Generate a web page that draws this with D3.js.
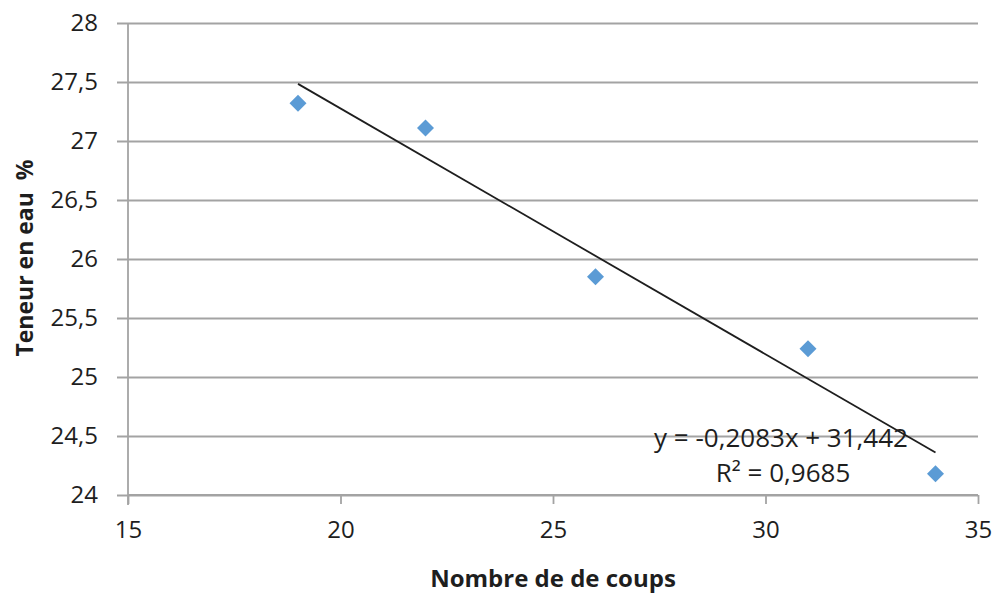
<!DOCTYPE html>
<html>
<head>
<meta charset="utf-8">
<script src="https://cdn.jsdelivr.net/npm/d3@7"></script>
<style>
  body { margin: 0; background: #fff; }
  text { font-family: "Open Sans", sans-serif; fill: #1e1e1e; }
</style>
</head>
<body>
<div id="chart"></div>
<script>
// data
var coups = [19, 22, 26, 31, 34];
var teneur = [27.32, 27.11, 25.85, 25.24, 24.18];
var xTicks = [15, 20, 25, 30, 35];
var yTicks = [24, 24.5, 25, 25.5, 26, 26.5, 27, 27.5, 28];
var slope = -0.2083, intercept = 31.442, r2 = 0.9685;

var W = 996, H = 594;
var margin = {top: 23, right: 18, bottom: 99, left: 128},
    width = W - margin.left - margin.right,
    height = H - margin.top - margin.bottom;

var fmt = function(v) { return String(v).replace(".", ","); };

var svg = d3.select("#chart")
  .append("svg")
    .attr("width", W)
    .attr("height", H)
  .append("g")
    .attr("transform", "translate(" + margin.left + "," + margin.top + ")");

var x = d3.scaleLinear().domain([15, 35]).range([0, width]);
var y = d3.scaleLinear().domain([24, 28]).range([height, 0]);

// horizontal gridlines + y axis
svg.append("g")
  .call(d3.axisLeft(y).tickValues(yTicks).tickSize(-width).tickFormat(fmt))
  .call(function(g) {
    g.select(".domain").remove();
    g.selectAll(".tick line").attr("stroke", "#a3a3a3").attr("stroke-width", 1.8).attr("x1", -11);
    g.selectAll(".tick text").attr("x", -30).style("font-size", "24px").attr("fill", "#1e1e1e");
  });

// y axis line
svg.append("line")
  .attr("x1", 0).attr("x2", 0).attr("y1", 0).attr("y2", height + 10)
  .attr("stroke", "#a3a3a3").attr("stroke-width", 1.8);

// x axis
svg.append("g")
  .attr("transform", "translate(0," + height + ")")
  .call(d3.axisBottom(x).tickValues(xTicks).tickSize(9).tickFormat(fmt))
  .call(function(g) {
    g.select(".domain").attr("stroke", "#a3a3a3").attr("stroke-width", 1.8).attr("d", "M0,0H" + width);
    g.selectAll(".tick line").attr("stroke", "#a3a3a3").attr("stroke-width", 1.8);
    g.selectAll(".tick text").attr("y", 26).style("font-size", "24px").attr("fill", "#1e1e1e");
  });

// points
svg.selectAll(".pt")
  .data(coups)
  .enter()
  .append("path")
    .attr("class", "pt")
    .attr("d", d3.symbol().type(d3.symbolSquare).size(144))
    .attr("transform", function(d, i) { return "translate(" + x(d) + "," + y(teneur[i]) + ") rotate(45)"; })
    .attr("fill", "#5b9bd5");

// trendline
var x0 = d3.min(coups), x1 = d3.max(coups);
svg.append("line")
  .attr("x1", x(x0)).attr("y1", y(slope * x0 + intercept))
  .attr("x2", x(x1)).attr("y2", y(slope * x1 + intercept))
  .attr("stroke", "#1e1e1e").attr("stroke-width", 1.8);

// equation
svg.append("text")
  .attr("x", 781 - margin.left).attr("y", 447 - margin.top)
  .attr("text-anchor", "middle")
  .style("font-size", "26px")
  .text("y = " + fmt(slope) + "x + " + fmt(intercept));
svg.append("text")
  .attr("x", 783 - margin.left).attr("y", 482 - margin.top)
  .attr("text-anchor", "middle")
  .style("font-size", "26px")
  .text("R² = " + fmt(r2));

// axis titles
svg.append("text")
  .attr("x", width / 2).attr("y", 587 - margin.top)
  .attr("text-anchor", "middle")
  .style("font-size", "24px").style("font-weight", "bold")
  .text("Nombre de de coups");

svg.append("text")
  .attr("transform", "translate(" + (33 - margin.left) + "," + (258 - margin.top) + ") rotate(-90)")
  .attr("text-anchor", "middle")
  .style("font-size", "23px").style("font-weight", "bold")
  .style("white-space", "pre")
  .text("Teneur en eau  %");
</script>
</body>
</html>
